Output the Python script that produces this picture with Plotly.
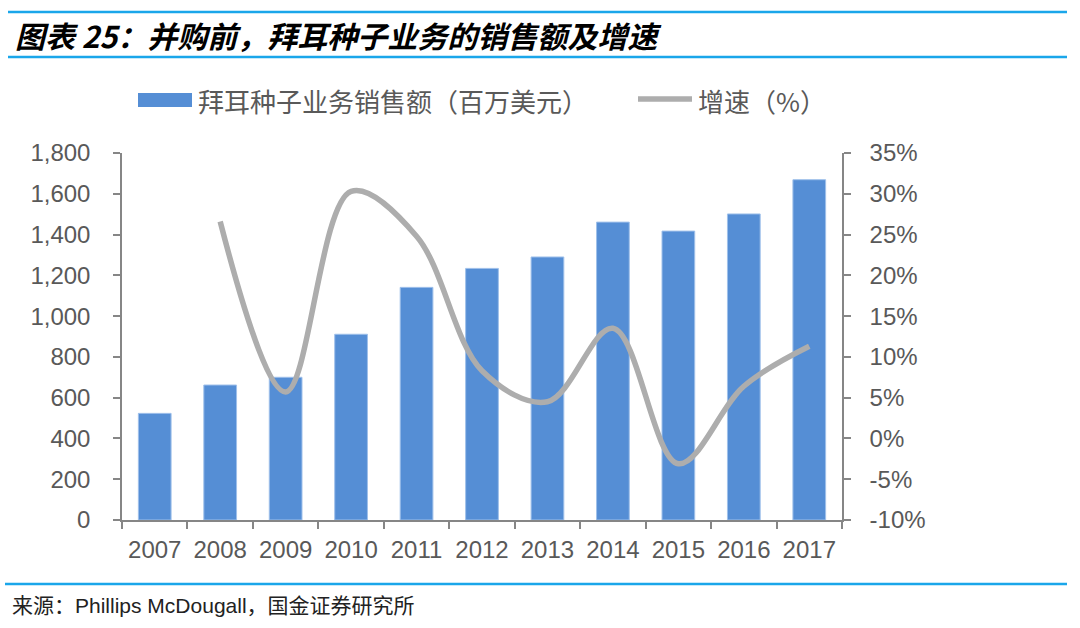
import plotly.graph_objects as go

years = ["2007", "2008", "2009", "2010", "2011", "2012", "2013", "2014", "2015", "2016", "2017"]
sales = [523, 662, 700, 911, 1141, 1234, 1290, 1461, 1417, 1501, 1669]
growth = [None, 26.6, 5.7, 30.3, 24.8, 8.3, 4.5, 13.5, -3.1, 6.4, 11.3]
pct_ticks = [-10, -5, 0, 5, 10, 15, 20, 25, 30, 35]
pct_labels = ["-10%", "-5%", "0%", "5%", "10%", "15%", "20%", "25%", "30%", "35%"]

bar_name = "拜耳种子业务销售额（百万美元）"
line_name = "增速（%）"
title_text = "图表 25：并购前，拜耳种子业务的销售额及增速"
source_text = "来源：Phillips McDougall，国金证券研究所"

BAR_COLOR = "#558ED5"
LINE_COLOR = "#ADADAD"
AXIS_COLOR = "#868686"
TEXT_COLOR = "#595959"
RULE_COLOR = "#1AA6EA"
NUM_FONT = "Liberation Sans, Arial, sans-serif"
CJK_FONT = "Noto Sans CJK SC, sans-serif"

fig = go.Figure()
fig.add_trace(go.Bar(
    x=years, y=sales, name=bar_name, marker_color=BAR_COLOR,
    marker_line=dict(color="#9FC0EA", width=1), showlegend=False,
))
fig.add_trace(go.Scatter(
    x=years, y=growth, name=line_name, yaxis="y2", mode="lines",
    line=dict(color=LINE_COLOR, width=5.5, shape="spline", smoothing=1.0),
    showlegend=False, connectgaps=False,
))

W, H = 1080, 628
L, R, T, B = 122, 842, 153, 520

fig.update_layout(
    width=W, height=H,
    margin=dict(l=L, r=W - R, t=T, b=H - B),
    paper_bgcolor="white", plot_bgcolor="white",
    bargap=0.5,
    xaxis=dict(
        type="category", showline=True, linecolor=AXIS_COLOR, linewidth=1.5,
        ticks="outside", tickson="boundaries", ticklen=7, tickcolor=AXIS_COLOR,
        tickwidth=1.5, showgrid=False,
        tickfont=dict(family=NUM_FONT, size=24, color=TEXT_COLOR),
        range=[-0.5, 10.5], ticklabelstandoff=7,
    ),
    yaxis=dict(
        range=[0, 1800], dtick=200, tickformat=",", showgrid=False,
        showline=True, linecolor=AXIS_COLOR, linewidth=1.5,
        ticks="outside", ticklen=7, tickcolor=AXIS_COLOR, tickwidth=1.5,
        tickfont=dict(family=NUM_FONT, size=24, color=TEXT_COLOR),
        ticklabelstandoff=18, zeroline=False,
    ),
    yaxis2=dict(
        range=[-10, 35], tickmode="array", tickvals=pct_ticks, ticktext=pct_labels,
        overlaying="y", side="right",
        showgrid=False, showline=True, linecolor=AXIS_COLOR, linewidth=1.5,
        ticks="outside", ticklen=7, tickcolor=AXIS_COLOR, tickwidth=1.5,
        tickfont=dict(family=NUM_FONT, size=24, color=TEXT_COLOR),
        ticklabelstandoff=14, zeroline=False,
    ),
)


def ax(xpix):
    return (xpix - L) / (R - L)


def ay(ypix):
    return (B - ypix) / (B - T)


shapes = []
for y in (12, 57):
    shapes.append(dict(type="line", xref="paper", yref="paper",
                       x0=ax(8), x1=ax(1067), y0=ay(y), y1=ay(y),
                       line=dict(color=RULE_COLOR, width=2.5)))
shapes.append(dict(type="line", xref="paper", yref="paper",
                   x0=ax(5), x1=ax(1067), y0=ay(584), y1=ay(584),
                   line=dict(color=RULE_COLOR, width=2.5)))
# legend swatches
shapes.append(dict(type="rect", xref="paper", yref="paper",
                   x0=ax(138), x1=ax(192), y0=ay(107), y1=ay(93),
                   fillcolor=BAR_COLOR, line=dict(width=0)))
shapes.append(dict(type="line", xref="paper", yref="paper",
                   x0=ax(638), x1=ax(692), y0=ay(99), y1=ay(99),
                   line=dict(color=LINE_COLOR, width=5.5)))

annotations = [
    dict(text=title_text, xref="paper", yref="paper", x=ax(13), y=ay(35),
         xanchor="left", yanchor="middle", showarrow=False,
         font=dict(family=CJK_FONT, size=30, color="black", weight="bold", style="italic")),
    dict(text=bar_name, xref="paper", yref="paper", x=ax(196), y=ay(100),
         xanchor="left", yanchor="middle", showarrow=False,
         font=dict(family=CJK_FONT, size=26, color=TEXT_COLOR)),
    dict(text=line_name, xref="paper", yref="paper", x=ax(696), y=ay(100),
         xanchor="left", yanchor="middle", showarrow=False,
         font=dict(family=CJK_FONT, size=26, color=TEXT_COLOR)),
    dict(text=source_text, xref="paper", yref="paper", x=ax(10), y=ay(605),
         xanchor="left", yanchor="middle", showarrow=False,
         font=dict(family="Liberation Sans, Noto Sans CJK SC, sans-serif", size=21, color="#222222")),
]

fig.update_layout(shapes=shapes, annotations=annotations)
fig.write_html("out.html", config={"displayModeBar": False},
               post_script="document.body.style.margin='0';")
